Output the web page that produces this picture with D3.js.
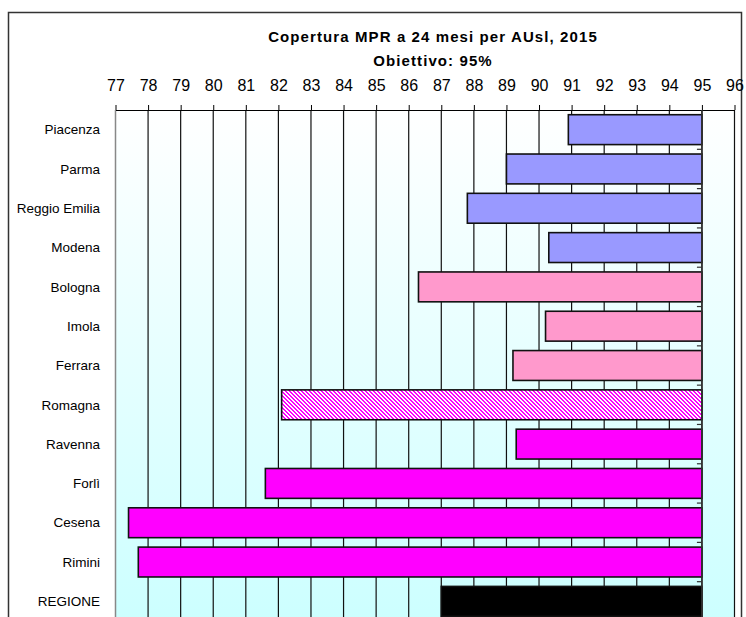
<!DOCTYPE html>
<html>
<head>
<meta charset="utf-8">
<script src="https://cdn.jsdelivr.net/npm/d3@7"></script>
<style>
  body { margin: 0; background: white; }
  svg { display: block; font-family: "Liberation Sans", Arial, sans-serif; }
</style>
</head>
<body>
<svg id="chart" width="746" height="617"></svg>
<script>
const categories = ["Piacenza", "Parma", "Reggio Emilia", "Modena", "Bologna", "Imola",
  "Ferrara", "Romagna", "Ravenna", "Forlì", "Cesena", "Rimini", "REGIONE"];
const coverage = [90.9, 89.0, 87.8, 90.3, 86.3, 90.2, 89.2, 82.1, 89.3, 81.6, 77.4, 77.7, 87.0];
const barColors = ["#9999ff", "#9999ff", "#9999ff", "#9999ff", "#ff99cc", "#ff99cc",
  "#ff99cc", "url(#hatch)", "#ff00ff", "#ff00ff", "#ff00ff", "#ff00ff", "#000000"];
const xTicks = d3.range(77, 97);
const target = 95;
const titleLines = ["Copertura MPR a 24 mesi per AUsl, 2015", "Obiettivo: 95%"];

const svg = d3.select("#chart");
const plotLeft = 115.5, plotRight = 734.5, plotTop = 110, plotBottom = 621;

const defs = svg.append("defs");
const grad = defs.append("linearGradient")
  .attr("id", "bg").attr("x1", 0).attr("y1", 0).attr("x2", 0).attr("y2", 1);
grad.append("stop").attr("offset", "0%").attr("stop-color", "#ffffff");
grad.append("stop").attr("offset", "100%").attr("stop-color", "#ccffff");

// magenta with white downward diagonal dashes
const pat = defs.append("pattern")
  .attr("id", "hatch").attr("patternUnits", "userSpaceOnUse")
  .attr("width", 4).attr("height", 4);
pat.append("rect").attr("width", 4).attr("height", 4).attr("fill", "#ff00ff");
[[0, 0, 2], [1, 1, 2], [2, 2, 2], [3, 3, 1], [0, 3, 1]].forEach(([px, py, w]) => {
  pat.append("rect").attr("x", px).attr("y", py).attr("width", w).attr("height", 1)
    .attr("fill", "#ffffff").attr("shape-rendering", "crispEdges");
});

// chart frame
svg.append("rect")
  .attr("x", 8.5).attr("y", 12.5).attr("width", 733).attr("height", 640)
  .attr("fill", "none").attr("stroke", "#333").attr("stroke-width", 1.5);

const x = d3.scaleLinear().domain([77, 96]).range([plotLeft, plotRight]);
const y = d3.scaleBand().domain(categories).range([plotTop, plotBottom]).paddingInner(0.24).paddingOuter(0.12);
const band = (plotBottom - plotTop) / categories.length;

// plot area
svg.append("rect")
  .attr("x", plotLeft).attr("y", plotTop).attr("width", plotRight - plotLeft).attr("height", plotBottom - plotTop)
  .attr("fill", "url(#bg)");
svg.append("line")
  .attr("x1", plotLeft).attr("x2", plotLeft).attr("y1", plotTop).attr("y2", plotBottom)
  .attr("stroke", "#888").attr("stroke-width", 1.5);

// gridlines
svg.append("g").selectAll("line")
  .data(xTicks.slice(1))
  .join("line")
  .attr("x1", d => x(d)).attr("x2", d => x(d))
  .attr("y1", plotTop).attr("y2", plotBottom)
  .attr("stroke", "#111").attr("stroke-width", 1.2);

// top value axis
const xAxis = d3.axisTop(x).tickValues(xTicks).tickSize(5).tickPadding(14).tickSizeOuter(0);
const gx = svg.append("g").attr("transform", `translate(0,${plotTop})`).call(xAxis);
gx.select(".domain").attr("stroke", "#000");
gx.selectAll(".tick line").attr("stroke", "#000");
gx.selectAll(".tick text").attr("font-size", 16).attr("fill", "#000")
  .attr("font-family", "Liberation Sans, Arial, sans-serif");

// bars from value to target
svg.append("g").selectAll("rect")
  .data(categories)
  .join("rect")
  .attr("x", (d, i) => x(coverage[i]))
  .attr("y", d => y(d))
  .attr("width", (d, i) => x(target) - x(coverage[i]))
  .attr("height", y.bandwidth())
  .attr("fill", (d, i) => barColors[i])
  .attr("stroke", "#111").attr("stroke-width", 1.6);

// category axis at target
svg.append("line")
  .attr("x1", x(target)).attr("x2", x(target)).attr("y1", plotTop).attr("y2", plotBottom)
  .attr("stroke", "#333").attr("stroke-width", 1.6);
svg.append("g").selectAll("line")
  .data(d3.range(1, categories.length))
  .join("line")
  .attr("x1", x(target) - 5).attr("x2", x(target))
  .attr("y1", d => plotTop + d * band).attr("y2", d => plotTop + d * band)
  .attr("stroke", "#333").attr("stroke-width", 1.2);

// category labels
svg.append("g").selectAll("text")
  .data(categories)
  .join("text")
  .attr("x", 100).attr("y", d => y(d) + y.bandwidth() / 2)
  .attr("dy", "0.35em").attr("text-anchor", "end")
  .attr("font-size", 13.5).attr("fill", "#000")
  .text(d => d);

// title
svg.append("g").selectAll("text")
  .data(titleLines)
  .join("text")
  .attr("x", 433).attr("y", (d, i) => 42 + i * 24)
  .attr("text-anchor", "middle").attr("font-size", 15).attr("font-weight", "bold")
  .attr("letter-spacing", "1.1px")
  .attr("fill", "#000")
  .text(d => d);
</script>
</body>
</html>
